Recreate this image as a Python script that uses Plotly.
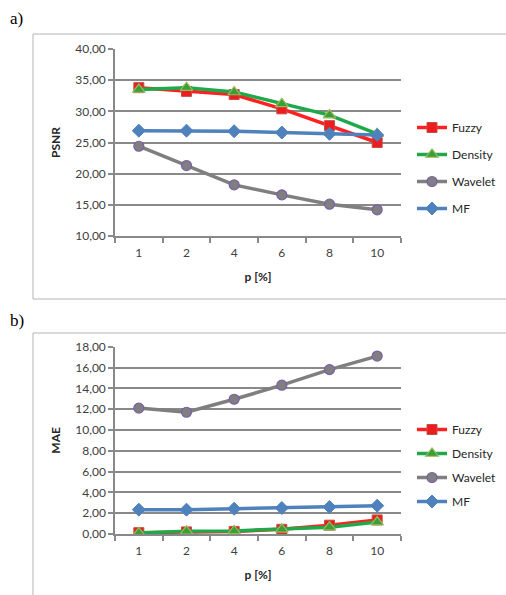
import plotly.graph_objects as go

categories = ["1", "2", "4", "6", "8", "10"]

psnr_fuzzy = [33.8, 33.2, 32.7, 30.4, 27.7, 25.0]
psnr_density = [33.5, 33.8, 33.1, 31.2, 29.4, 26.4]
psnr_wavelet = [24.4, 21.3, 18.2, 16.6, 15.1, 14.2]
psnr_mf = [26.9, 26.9, 26.8, 26.6, 26.4, 26.2]

mae_fuzzy = [0.13, 0.2, 0.25, 0.45, 0.85, 1.35]
mae_density = [0.1, 0.26, 0.3, 0.45, 0.65, 1.15]
mae_wavelet = [12.1, 11.7, 12.95, 14.3, 15.8, 17.1]
mae_mf = [2.34, 2.34, 2.43, 2.5, 2.6, 2.72]

psnr_ticks = [10, 15, 20, 25, 30, 35, 40]
mae_ticks = [0, 2, 4, 6, 8, 10, 12, 14, 16, 18]

W, H = 506, 595

def px(v):
    return v / W

def py(v):
    return 1 - v / H

styles = {
    "Fuzzy": dict(line=dict(color="#ff2020", width=3.5),
                  marker=dict(symbol="square", size=10, color="#ee1c1c",
                              line=dict(color="#c0504d", width=1))),
    "Density": dict(line=dict(color="#1fa94a", width=3.5),
                    marker=dict(symbol="triangle-up", size=11, color="#3a9e3a",
                                line=dict(color="#9bbb59", width=1.2))),
    "Wavelet": dict(line=dict(color="#7f7f7f", width=3.5),
                    marker=dict(symbol="circle", size=10, color="#7f7f7f",
                                line=dict(color="#7b5fa8", width=1.2))),
    "MF": dict(line=dict(color="#4f81bd", width=3.5),
               marker=dict(symbol="diamond", size=10, color="#4f81bd",
                           line=dict(color="#4f81bd", width=1))),
}

fig = go.Figure()

sets = [
    ("x", "y", "legend", [("Fuzzy", psnr_fuzzy), ("Density", psnr_density),
                          ("Wavelet", psnr_wavelet), ("MF", psnr_mf)]),
    ("x2", "y2", "legend2", [("Fuzzy", mae_fuzzy), ("Density", mae_density),
                             ("Wavelet", mae_wavelet), ("MF", mae_mf)]),
]
for xa, ya, lg, series in sets:
    for name, vals in series:
        st = styles[name]
        fig.add_trace(go.Scatter(
            x=categories, y=vals, name=name, mode="lines+markers",
            xaxis=xa, yaxis=ya, legend=lg, legendgroup=lg + name,
            line=st["line"], marker=st["marker"]))

font_fam = "Lato, 'Open Sans', sans-serif"
tick_font = dict(family=font_fam, size=12, color="#404040")
title_font = dict(family=font_fam, size=12, color="#262626", weight="bold")
gray = "#898989"

xcommon = dict(type="category", range=[-0.5, 5.5], tickson="boundaries",
               ticks="outside", ticklen=5, tickcolor=gray, tickwidth=1.5,
               showline=True, linecolor=gray, linewidth=1.5, showgrid=False,
               tickfont=tick_font, fixedrange=True, automargin=False,
               ticklabelstandoff=5,
               domain=[px(115), px(401)],
               title=dict(text="p [%]", font=title_font, standoff=13))
ycommon = dict(ticks="outside", ticklen=5, tickcolor=gray, tickwidth=1.5,
               showline=True, linecolor=gray, linewidth=1.5, showgrid=True,
               gridcolor=gray, gridwidth=1.5, zeroline=False, automargin=False,
               tickfont=tick_font, fixedrange=True)

fig.update_layout(
    width=W, height=H,
    margin=dict(l=0, r=0, t=0, b=0, autoexpand=False),
    paper_bgcolor="white", plot_bgcolor="white",
    showlegend=True,
    xaxis=dict(**xcommon, anchor="y"),
    yaxis=dict(**ycommon, anchor="x", range=[10, 40], tickvals=psnr_ticks,
               ticktext=[f"{v:.2f}".replace(".", ",") for v in psnr_ticks],
               domain=[py(236), py(49)],
               title=dict(text="PSNR", font=title_font, standoff=12)),
    xaxis2=dict(**xcommon, anchor="y2"),
    yaxis2=dict(**ycommon, anchor="x2", range=[0, 18], tickvals=mae_ticks,
                ticktext=[f"{v:.2f}".replace(".", ",") for v in mae_ticks],
                domain=[py(534), py(346.7)],
                title=dict(text="MAE", font=title_font, standoff=12)),
    legend=dict(x=px(412), y=py(168), xanchor="left", yanchor="middle",
                font=dict(family=font_fam, size=12, color="#262626"),
                tracegroupgap=8, itemwidth=30, bgcolor="rgba(0,0,0,0)"),
    legend2=dict(x=px(412), y=py(465.5), xanchor="left", yanchor="middle",
                 font=dict(family=font_fam, size=12, color="#262626"),
                 tracegroupgap=5, itemwidth=30, bgcolor="rgba(0,0,0,0)"),
    shapes=[
        dict(type="rect", xref="paper", yref="paper",
             x0=px(33), x1=px(520), y0=py(299), y1=py(34),
             line=dict(color="#b5b5b5", width=1), layer="below"),
        dict(type="rect", xref="paper", yref="paper",
             x0=px(33), x1=px(520), y0=py(620), y1=py(333),
             line=dict(color="#b5b5b5", width=1), layer="below"),
    ],
    annotations=[
        dict(text="a)", x=px(8), y=py(18), xref="paper", yref="paper",
             xanchor="left", yanchor="middle", showarrow=False,
             font=dict(family="Liberation Serif, serif", size=17, color="#000")),
        dict(text="b)", x=px(8), y=py(320), xref="paper", yref="paper",
             xanchor="left", yanchor="middle", showarrow=False,
             font=dict(family="Liberation Serif, serif", size=17, color="#000")),
    ],
)

fig.write_html("out.html", config={"displayModeBar": False},
               post_script="document.body.style.margin='0';document.body.style.overflow='hidden';")
